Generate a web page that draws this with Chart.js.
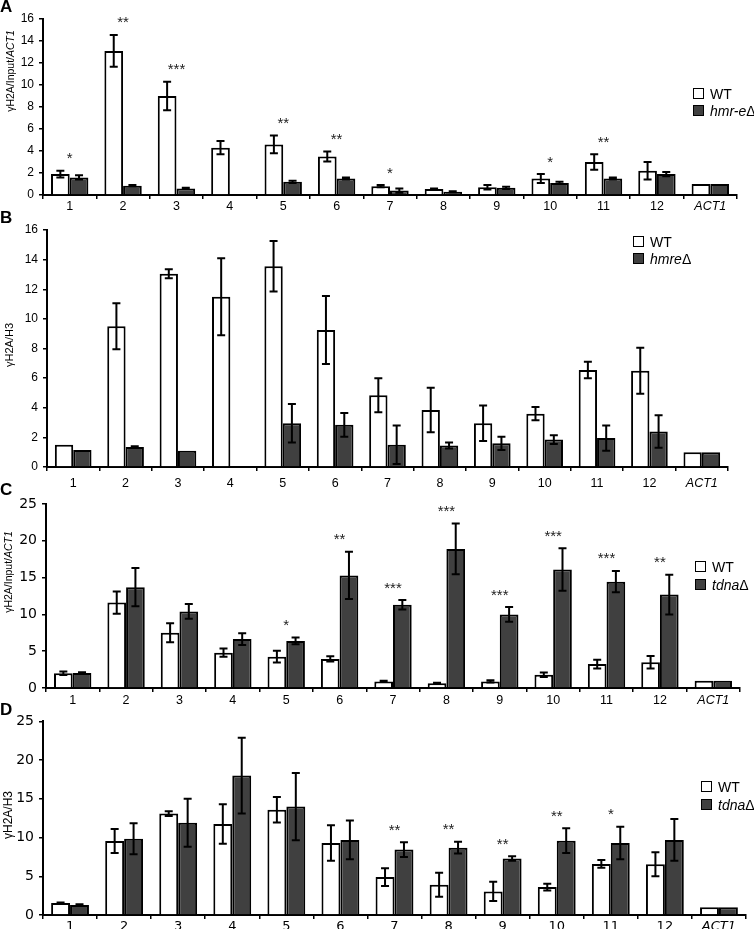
<!DOCTYPE html>
<html>
<head>
<meta charset="utf-8">
<script src="https://cdn.jsdelivr.net/npm/chart.js@4.4.1/dist/chart.umd.min.js"></script>
<style>
body { margin: 0; background: #fff; font-family: "Liberation Sans", Arial, sans-serif; }
#fig { position: relative; width: 754px; height: 929px; overflow: hidden; }
canvas { position: absolute; left: 0; }
.letter { position: absolute; left: 0; font-weight: bold; font-size: 17px; line-height: 1; }
.ytitle { position: absolute; white-space: nowrap; line-height: 1; transform: translate(-50%, -50%) rotate(-90deg); }
.box { position: absolute; width: 9px; height: 9px; border: 1.5px solid #000; }
.legtxt { position: absolute; font-size: 14px; line-height: 1; white-space: nowrap; }
</style>
</head>
<body>
<div id="fig"></div>
<script>
// categorias (regiões) comuns aos quatro painéis
const categorias = ['1', '2', '3', '4', '5', '6', '7', '8', '9', '10', '11', '12', 'ACT1'];

// Painel A: γH2A/Input/ACT1, WT vs hmr-eΔ
const wtA     = [1.9, 13.1, 9.0, 4.3, 4.6, 3.5, 0.8, 0.55, 0.7, 1.5, 3.0, 2.2, 1.0];
const wtAErr  = [0.3, 1.45, 1.3, 0.6, 0.8, 0.45, 0.1, 0.05, 0.2, 0.4, 0.7, 0.8, 0];
const mutA    = [1.6, 0.85, 0.6, null, 1.2, 1.5, 0.4, 0.3, 0.65, 1.1, 1.5, 1.9, 1.0];
const mutAErr = [0.2, 0.05, 0.05, 0, 0.1, 0.1, 0.2, 0.05, 0.1, 0.1, 0.1, 0.2, 0];
const starsA  = ['*', '**', '***', '', '**', '**', '*', '', '', '*', '**', '', ''];

// Painel B: γH2A/H3, WT vs hmreΔ
const wtB     = [1.5, 9.5, 13.05, 11.5, 13.55, 9.25, 4.85, 3.85, 2.95, 3.6, 6.55, 6.5, 1.0];
const wtBErr  = [0, 1.55, 0.3, 2.6, 1.7, 2.3, 1.15, 1.5, 1.2, 0.45, 0.55, 1.55, 0];
const mutB    = [1.15, 1.35, 1.1, null, 2.95, 2.85, 1.5, 1.45, 1.6, 1.85, 1.95, 2.4, 1.0];
const mutBErr = [0, 0.05, 0, 0, 1.3, 0.8, 1.3, 0.2, 0.45, 0.3, 0.85, 1.1, 0];
const starsB  = [];

// Painel C: γH2A/Input/ACT1, WT vs tdnaΔ
const wtC     = [2.0, 11.6, 7.5, 4.8, 4.25, 3.95, 0.9, 0.65, 0.9, 1.8, 3.25, 3.5, 1.0];
const wtCErr  = [0.25, 1.5, 1.3, 0.55, 0.8, 0.35, 0.1, 0.05, 0.15, 0.3, 0.6, 0.85, 0];
const mutC    = [2.05, 13.7, 10.4, 6.65, 6.4, 15.3, 11.3, 18.9, 10.0, 16.1, 14.45, 12.7, 1.0];
const mutCErr = [0.1, 2.6, 1.0, 0.8, 0.45, 3.2, 0.65, 3.45, 1.0, 2.9, 1.45, 2.7, 0];
const starsC  = ['', '', '', '', '*', '**', '***', '***', '***', '***', '***', '**', ''];

// Painel D: γH2A/H3, WT vs tdnaΔ
const wtD     = [1.55, 9.55, 13.1, 11.75, 13.6, 9.3, 4.9, 3.9, 3.05, 3.6, 6.6, 6.55, 1.0];
const wtDErr  = [0.05, 1.55, 0.3, 2.55, 1.65, 2.3, 1.15, 1.55, 1.25, 0.45, 0.5, 1.55, 0];
const mutD    = [1.3, 9.85, 11.9, 18.0, 14.0, 9.7, 8.45, 8.7, 7.3, 9.6, 9.3, 9.7, 1.0];
const mutDErr = [0.1, 2.0, 3.1, 4.9, 4.35, 2.5, 0.95, 0.75, 0.3, 1.6, 2.1, 2.7, 0];
const starsD  = ['', '', '', '', '', '', '**', '**', '**', '**', '*', '', ''];

// layout de cada painel (posições em px)
const paineis = [
    { letra: 'A', top: 0,   height: 216, left: 43, right: 737, padTop: 19, xH: 21, max: 16, step: 2,
      yFont: { family: 'Liberation Sans', size: 12 }, xFont: 12.5, xFam: 'Liberation Sans', xPad: 0,
      wt: wtA, wtErr: wtAErr, mut: mutA, mutErr: mutAErr, stars: starsA,
      titulo: 'γH2A/Input/<i>ACT1</i>', tx: 10, ty: 71, tSize: 10.5,
      mutNome: '<i>hmr-e</i>Δ', leg: [693, 88, 105] },
    { letra: 'B', top: 216, height: 272, left: 47, right: 728, padTop: 14, xH: 21, max: 16, step: 2,
      yFont: { family: 'Liberation Sans', size: 12 }, xFont: 12.5, xFam: 'Liberation Sans', xPad: 5,
      wt: wtB, wtErr: wtBErr, mut: mutB, mutErr: mutBErr, stars: starsB,
      titulo: 'γH2A/H3', tx: 9, ty: 345, tSize: 11,
      mutNome: '<i>hmre</i>Δ', leg: [633, 236, 253] },
    { letra: 'C', top: 488, height: 220, left: 46, right: 740, padTop: 16, xH: 20, max: 25, step: 5,
      yFont: { family: 'DejaVu Sans', size: 14 }, xFont: 12.5, xFam: 'Liberation Sans', xPad: 1,
      wt: wtC, wtErr: wtCErr, mut: mutC, mutErr: mutCErr, stars: starsC,
      titulo: 'γH2A/Input/<i>ACT1</i>', tx: 8, ty: 572, tSize: 10.5,
      mutNome: '<i>tdna</i>Δ', leg: [695, 561, 579] },
    { letra: 'D', top: 708, height: 225, left: 43, right: 746, padTop: 10, xH: 18, max: 25, step: 5,
      yFont: { family: 'DejaVu Sans', size: 14 }, xFont: 13, xFam: 'DejaVu Sans', xPad: 0,
      wt: wtD, wtErr: wtDErr, mut: mutD, mutErr: mutDErr, stars: starsD,
      titulo: 'γH2A/H3', tx: 8, ty: 815, tSize: 12,
      mutNome: '<i>tdna</i>Δ', leg: [701, 781, 799] }
];

// Plugin: barras de erro desenhadas pelas escalas do gráfico
const barrasDeErro = {
    id: 'barrasDeErro',
    afterDatasetsDraw(chart) {
        const ctx = chart.ctx;
        const y = chart.scales.y;
        ctx.save();
        ctx.strokeStyle = '#000';
        ctx.lineWidth = 2;
        chart.data.datasets.forEach((ds, i) => {
            const meta = chart.getDatasetMeta(i);
            meta.data.forEach((bar, j) => {
                const v = ds.data[j];
                const e = ds.erros[j];
                if (v == null || !e) return;
                const yt = y.getPixelForValue(v + e);
                const yb = y.getPixelForValue(v - e);
                ctx.beginPath();
                ctx.moveTo(bar.x, yt); ctx.lineTo(bar.x, yb);
                ctx.moveTo(bar.x - 4, yt); ctx.lineTo(bar.x + 4, yt);
                ctx.moveTo(bar.x - 4, yb); ctx.lineTo(bar.x + 4, yb);
                ctx.stroke();
            });
        });
        ctx.restore();
    }
};

// Plugin: asteriscos de significância acima de cada grupo
const asteriscos = {
    id: 'asteriscos',
    afterDatasetsDraw(chart, args, opts) {
        const marcas = opts.marcas || [];
        const ctx = chart.ctx;
        const x = chart.scales.x, y = chart.scales.y;
        ctx.save();
        ctx.fillStyle = '#222';
        ctx.font = '15px "Liberation Sans"';
        ctx.textAlign = 'center';
        ctx.textBaseline = 'alphabetic';
        marcas.forEach((m, j) => {
            if (!m) return;
            let topo = 0;
            chart.data.datasets.forEach(ds => {
                const v = ds.data[j];
                if (v != null) topo = Math.max(topo, v + ds.erros[j]);
            });
            const yc = y.getPixelForValue(topo) - 16;
            ctx.fillText(m, x.getPixelForValue(j), yc + 8.5);
        });
        ctx.restore();
    }
};

const fig = document.getElementById('fig');

paineis.forEach(p => {
    const canvas = document.createElement('canvas');
    canvas.width = 754;
    canvas.height = p.height;
    canvas.style.top = p.top + 'px';
    fig.appendChild(canvas);

    new Chart(canvas.getContext('2d'), {
        type: 'bar',
        data: {
            labels: categorias,
            datasets: [
                { label: 'WT', data: p.wt, erros: p.wtErr, backgroundColor: '#fff',
                  borderColor: '#000', borderWidth: 2, borderSkipped: 'bottom' },
                { label: 'mut', data: p.mut, erros: p.mutErr, backgroundColor: '#404040',
                  borderColor: '#000', borderWidth: 2, borderSkipped: 'bottom' }
            ]
        },
        options: {
            responsive: false,
            animation: false,
            devicePixelRatio: 1,
            datasets: { bar: { categoryPercentage: 0.7, barPercentage: 1.0 } },
            layout: { padding: { top: p.padTop, right: 754 - p.right, left: 0, bottom: 0 } },
            scales: {
                x: {
                    afterFit: s => { s.height = p.xH; },
                    grid: { display: true, drawOnChartArea: false, drawTicks: true, tickLength: 4,
                            color: '#000', lineWidth: 1.5, offset: true },
                    border: { display: true, color: '#000', width: 2 },
                    ticks: {
                        color: '#000',
                        padding: p.xPad,
                        font: c => ({ family: p.xFam, size: p.xFont,
                                      style: c.index === 12 ? 'italic' : 'normal' })
                    }
                },
                y: {
                    min: 0, max: p.max,
                    afterFit: s => { s.width = p.left; },
                    grid: { display: true, drawOnChartArea: false, drawTicks: true, tickLength: 4,
                            color: '#000', lineWidth: 1.5 },
                    border: { display: true, color: '#000', width: 2 },
                    ticks: { stepSize: p.step, color: '#000', padding: 5, font: p.yFont }
                }
            },
            plugins: {
                legend: { display: false },
                tooltip: { enabled: false },
                asteriscos: { marcas: p.stars }
            }
        },
        plugins: [barrasDeErro, asteriscos]
    });

    // letra do painel
    const letra = document.createElement('div');
    letra.className = 'letter';
    letra.style.top = (p.top === 0 ? -2 : p.top - 7) + 'px';
    letra.textContent = p.letra;
    fig.appendChild(letra);

    // título do eixo y
    const tit = document.createElement('div');
    tit.className = 'ytitle';
    tit.style.left = p.tx + 'px';
    tit.style.top = p.ty + 'px';
    tit.style.fontSize = p.tSize + 'px';
    tit.innerHTML = p.titulo;
    fig.appendChild(tit);

    // legenda
    [['WT', '#fff', p.leg[1]], [p.mutNome, '#404040', p.leg[2]]].forEach(([nome, cor, t]) => {
        const b = document.createElement('div');
        b.className = 'box';
        b.style.left = p.leg[0] + 'px';
        b.style.top = t + 'px';
        b.style.background = cor;
        fig.appendChild(b);
        const tx = document.createElement('div');
        tx.className = 'legtxt';
        tx.style.left = (p.leg[0] + 17) + 'px';
        tx.style.top = (t - 1) + 'px';
        tx.innerHTML = nome;
        fig.appendChild(tx);
    });
});
</script>
</body>
</html>
